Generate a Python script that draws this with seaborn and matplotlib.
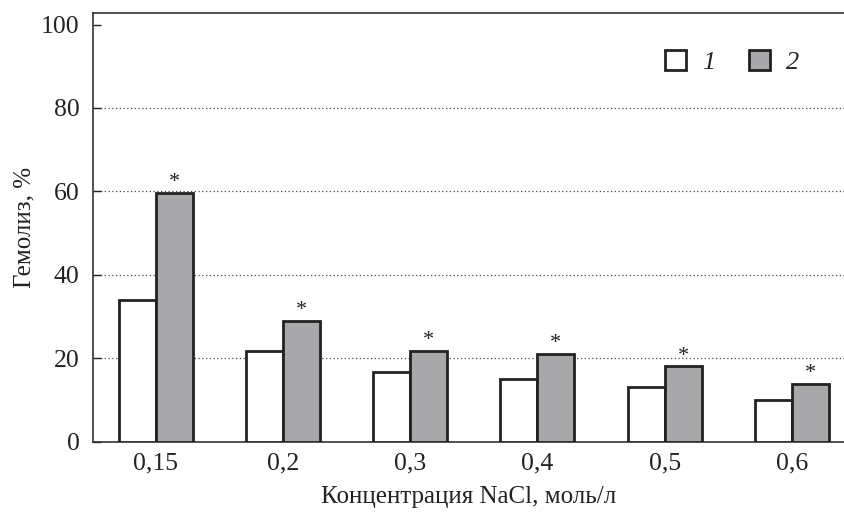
import pandas as pd
import seaborn as sns
import matplotlib.pyplot as plt

# data
conc = ["0,15", "0,2", "0,3", "0,4", "0,5", "0,6"]
group1 = [34.0, 21.8, 16.8, 15.0, 13.0, 10.0]
group2 = [59.7, 28.9, 21.8, 21.1, 18.1, 13.8]
groups = ["1", "2"]
colors = ["white", "#a7a8ab"]
yticks = [0, 20, 40, 60, 80, 100]

df = pd.DataFrame({
    "conc": conc * 2,
    "value": group1 + group2,
    "group": [groups[0]] * len(conc) + [groups[1]] * len(conc),
})

sns.set_theme(style="ticks")
plt.rcParams["font.family"] = ["Liberation Serif", "DejaVu Serif"]

fig = plt.figure(figsize=(8.44, 5.15), dpi=100)
ax = fig.add_axes([0.1106, 0.1423, 0.8894, 0.8319])

sns.barplot(data=df, x="conc", y="value", hue="group", hue_order=groups,
            palette=colors, width=0.58, edgecolor="#222222", linewidth=2,
            ax=ax, zorder=3)

# asterisks over group 2
for bar in ax.containers[1]:
    ax.annotate("*", (bar.get_x() + bar.get_width() / 2, bar.get_height()),
                xytext=(0, 0.5), textcoords="offset points",
                ha="center", va="bottom", fontsize=16, color="#222222")

ax.set_xlim(-0.49, 5.41)
ax.set_ylim(0, 102.7)
ax.set_yticks(yticks)
ax.yaxis.grid(True, linestyle=(0, (1, 2)), color="#444444", linewidth=0.9)
gl = ax.get_ygridlines()
gl[0].set_visible(False)
gl[-1].set_visible(False)
ax.set_axisbelow(True)

ax.tick_params(axis="y", direction="in", length=6, width=1, labelsize=18.5,
               pad=10, colors="#222222")
ax.tick_params(axis="x", length=0, labelsize=18.5, pad=8, colors="#222222")

for s in ["left", "bottom", "top"]:
    ax.spines[s].set_color("#333333")
    ax.spines[s].set_linewidth(1.2)
ax.spines["right"].set_visible(False)

ax.set_xlabel("Концентрация NaCl, моль/л", fontsize=18, labelpad=8, color="#222222")
ax.set_ylabel("Гемолиз, %", fontsize=18, labelpad=4, color="#222222")

ax.legend(loc="center", bbox_to_anchor=(0.851, 0.886), ncol=2, frameon=False,
          handlelength=0.8, handleheight=0.8, columnspacing=1.3,
          handletextpad=0.6, prop={"style": "italic", "size": 19})

fig.savefig("out.png", dpi=100)
